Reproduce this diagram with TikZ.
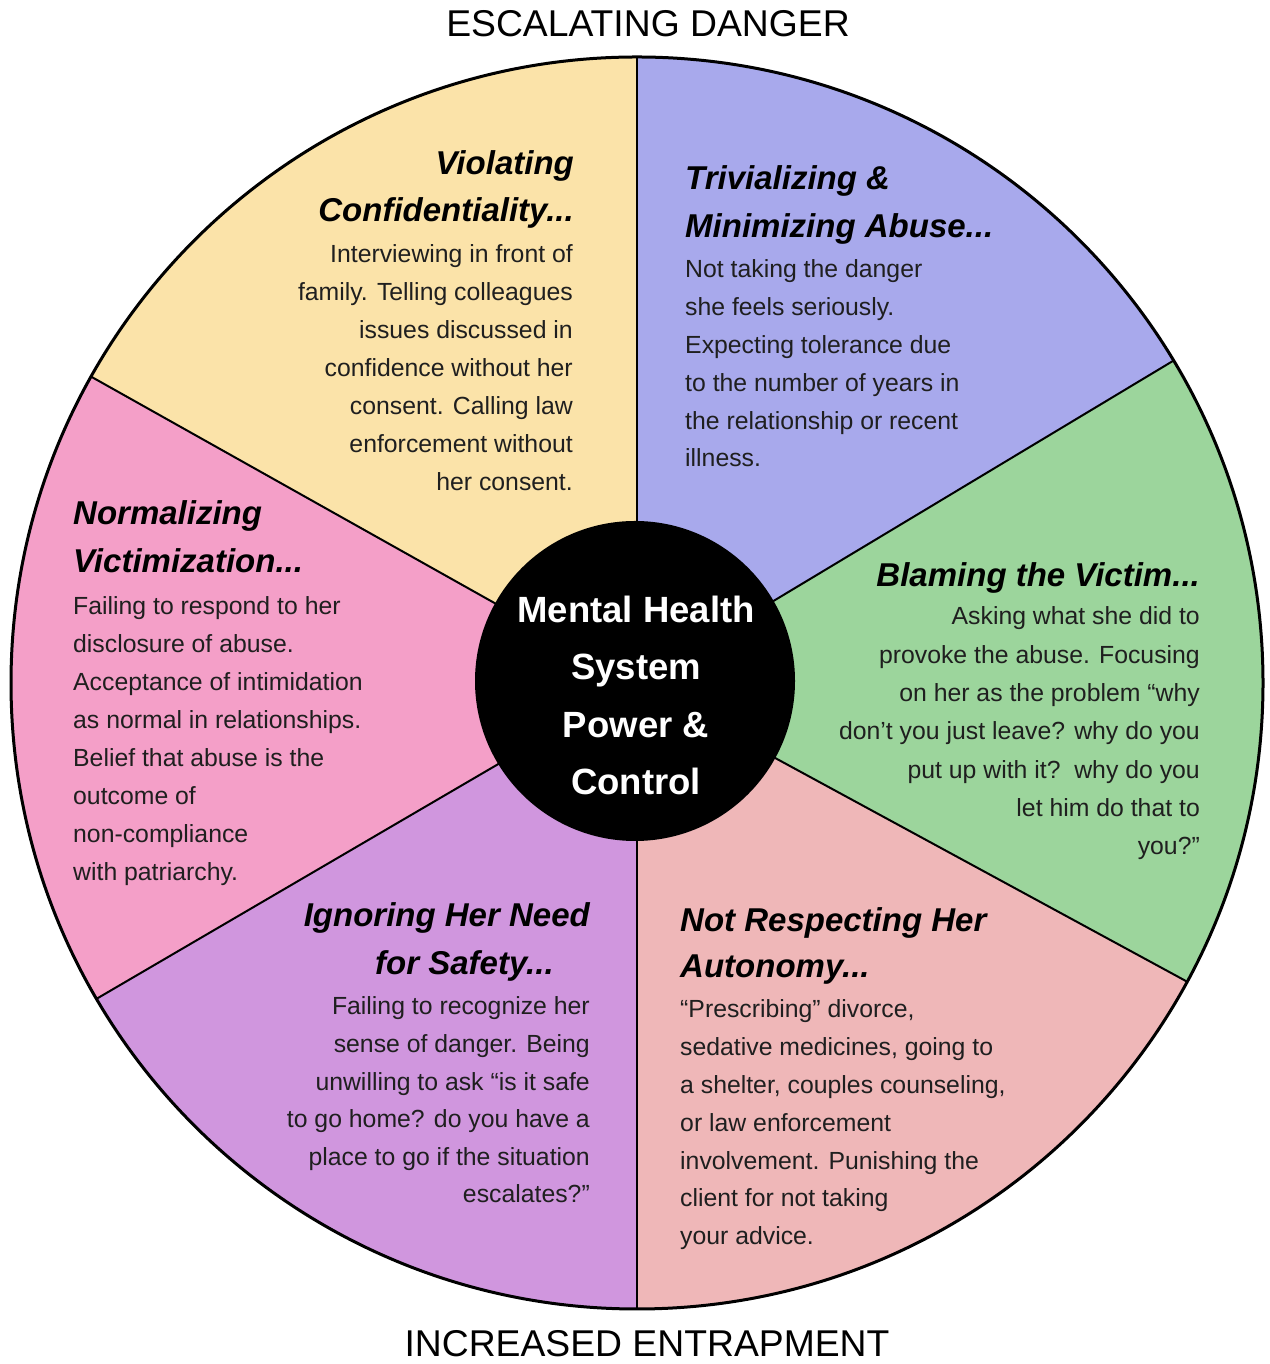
\documentclass[tikz,border=0pt]{standalone}
\usepackage{fontspec}
\setmainfont{Liberation Sans}
\definecolor{cYellow}{HTML}{FBE3A9}
\definecolor{cPeri}{HTML}{A8A9EC}
\definecolor{cGreen}{HTML}{9CD59C}
\definecolor{cRose}{HTML}{EFB7B8}
\definecolor{cPurple}{HTML}{D096DE}
\definecolor{cPink}{HTML}{F49FC8}
\begin{document}
\begin{tikzpicture}[x=1pt,y=1pt,
  divider/.style={draw=black,line width=2pt},
  rim/.style={draw=black,line width=3pt},
  hubstyle/.style={circle,fill=black,minimum size=320pt,inner sep=0pt},
  bodyR/.style={anchor=base east,inner sep=0pt,font=\fontsize{24.8}{29}\selectfont,text=black!88},
  bodyL/.style={anchor=base west,inner sep=0pt,font=\fontsize{24.8}{29}\selectfont,text=black!88},
  headR/.style={anchor=base east,inner sep=0pt,font=\fontsize{33}{38}\selectfont\bfseries\itshape},
  headL/.style={anchor=base west,inner sep=0pt,font=\fontsize{33}{38}\selectfont\bfseries\itshape},
  hubtext/.style={anchor=base,inner sep=0pt,text=white,font=\fontsize{36.5}{40}\selectfont\bfseries},
  title/.style={anchor=base,inner sep=0pt,text depth=0pt,font=\fontsize{37.3}{40}\selectfont}]
\useasboundingbox (0,0) rectangle (1269,1364);
\coordinate (C) at (637,681);
\def\R{626}
% sectors
\fill[cPeri]   (C) -- ++(31:\R)    arc[start angle=31,end angle=90,radius=\R] -- cycle;
\fill[cYellow] (C) -- ++(90:\R)    arc[start angle=90,end angle=150.7,radius=\R] -- cycle;
\fill[cPink]   (C) -- ++(150.7:\R) arc[start angle=150.7,end angle=210.3,radius=\R] -- cycle;
\fill[cPurple] (C) -- ++(210.3:\R) arc[start angle=210.3,end angle=270,radius=\R] -- cycle;
\fill[cRose]   (C) -- ++(270:\R)   arc[start angle=270,end angle=331.5,radius=\R] -- cycle;
\fill[cGreen]  (C) -- ++(331.5:\R) arc[start angle=331.5,end angle=391,radius=\R] -- cycle;
% dividers
\foreach \a/\n in {31/UR,90/T,150.7/UL,210.3/LL,270/B,331.5/LR}
  \draw[divider] (C) -- ++(\a:\R) coordinate (p\n);
\draw[rim] (C) circle[radius=\R];
% hub
\node[hubstyle] (hub) at (635,683) {};
\node[hubtext] (hub1) at (636,{1364-623}) {Mental Health};
\node[hubtext] (hub2) at (636,{1364-680}) {System};
\node[hubtext] (hub3) at (636,{1364-738}) {Power \&};
\node[hubtext] (hub4) at (636,{1364-795}) {Control};
% titles
\node[title] (top) at (648,{1364-37}) {ESCALATING DANGER};
\node[title] (bottom) at (647,{1364-1357}) {INCREASED ENTRAPMENT};
% yellow sector
\node[headR] (yh1) at (574,{1364-175}) {Violating};
\node[headR] (yh2) at (574,{1364-222}) {Confidentiality...};
\foreach \t [count=\i from 0] in {{Interviewing in front of},{family. Telling colleagues},{issues discussed in},{confidence without her},{consent. Calling law},{enforcement without},{her consent.}}
  \node[bodyR] (yb\i) at (573,{1364-263-38*\i}) {\t};
% periwinkle sector
\node[headL] (ph1) at (685,{1364-190}) {Trivializing \&};
\node[headL] (ph2) at (685,{1364-238}) {Minimizing Abuse...};
\foreach \t [count=\i from 0] in {{Not taking the danger},{she feels seriously.},{Expecting tolerance due},{to the number of years in},{the relationship or recent},{illness.}}
  \node[bodyL] (pb\i) at (685,{1364-278-37.8*\i}) {\t};
% green sector
\node[headR] (gh1) at (1200,{1364-587}) {Blaming the Victim...};
\foreach \t [count=\i from 0] in {{Asking what she did to},{provoke the abuse. Focusing},{on her as the problem “why},{don’t you just leave? why do you},{put up with it?\ \ why do you},{let him do that to},{you?”}}
  \node[bodyR] (gb\i) at (1200,{1364-625-38.3*\i}) {\t};
% pink left sector
\node[headL] (kh1) at (73,{1364-525}) {Normalizing};
\node[headL] (kh2) at (73,{1364-573}) {Victimization...};
\foreach \t [count=\i from 0] in {{Failing to respond to her},{disclosure of abuse.},{Acceptance of intimidation},{as normal in relationships.},{Belief that abuse is the},{outcome of},{non-compliance},{with patriarchy.}}
  \node[bodyL] (kb\i) at (73,{1364-615-38*\i}) {\t};
% purple sector
\node[headR] (uh1) at (590,{1364-927}) {Ignoring Her Need};
\node[headL] (uh2) at (375,{1364-975}) {for Safety...};
\foreach \t [count=\i from 0] in {{Failing to recognize her},{sense of danger. Being},{unwilling to ask “is it safe},{to go home? do you have a},{place to go if the situation},{escalates?”}}
  \node[bodyR] (ub\i) at (590,{1364-1015-37.6*\i}) {\t};
% rose sector
\node[headL] (rh1) at (680,{1364-932}) {Not Respecting Her};
\node[headL] (rh2) at (680,{1364-978}) {Autonomy...};
\foreach \t [count=\i from 0] in {{“Prescribing” divorce,},{sedative medicines, going to},{a shelter, couples counseling,},{or law enforcement},{involvement. Punishing the},{client for not taking},{your advice.}}
  \node[bodyL] (rb\i) at (680,{1364-1018-37.8*\i}) {\t};
\end{tikzpicture}
\end{document}
